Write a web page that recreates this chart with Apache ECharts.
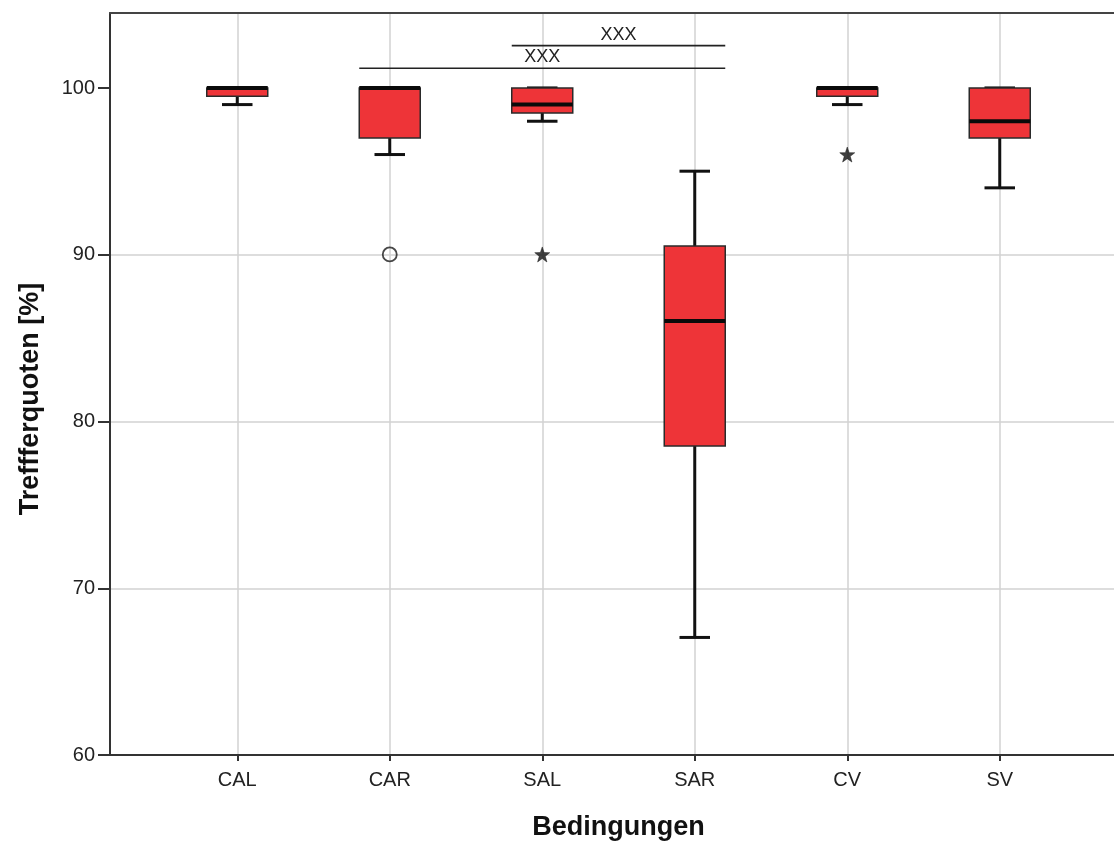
<!DOCTYPE html>
<html>
<head>
<meta charset="utf-8">
<title>Trefferquoten nach Bedingung</title>
<script src="https://cdn.jsdelivr.net/npm/echarts@6/dist/echarts.min.js"></script>
<style>
  html, body { margin: 0; padding: 0; background: #ffffff; }
  #chart { width: 1114px; height: 846px; }
</style>
</head>
<body>
<div id="chart"></div>
<script>
// Conditions and five-number summaries (hit rate in %)
const categories = ['CAL', 'CAR', 'SAL', 'SAR', 'CV', 'SV'];
const whiskerLow  = [99,   96,   98,   67,   99,   94];
const quartile1   = [99.5, 97,   98.5, 78.5, 99.5, 97];
const medians     = [100,  100,  99,   86,   100,  98];
const quartile3   = [100,  100,  100,  90.5, 100,  100];
const whiskerHigh = [100,  100,  100,  95,   100,  100];

// Outliers: circle = outlier, star = extreme value
const outlierCats   = ['CAR', 'SAL', 'CV'];
const outlierValues = [90, 90, 96];
const outlierKinds  = ['circle', 'star', 'star'];

// Significance brackets between conditions
const sigFrom   = ['CAR', 'SAL'];
const sigTo     = ['SAR', 'SAR'];
const sigLevels = [101.18, 102.54];
const sigLabels = ['XXX', 'XXX'];

// Y axis labels
const yTickValues = [60, 70, 80, 90, 100];

const FONT = "'Liberation Sans', Arial, sans-serif";
const STAR = 'path://M0,-10L2.35,-3.24L9.51,-3.09L3.8,1.24L5.88,8.09L0,4L-5.88,8.09L-3.8,1.24L-9.51,-3.09L-2.35,-3.24Z';

const boxRows = categories.map((c, i) => [i, whiskerLow[i], quartile1[i], medians[i], quartile3[i], whiskerHigh[i]]);
const outlierData = outlierCats.map((c, i) => ({
  value: [c, outlierValues[i]],
  symbol: outlierKinds[i] === 'circle' ? 'circle' : STAR,
  symbolSize: outlierKinds[i] === 'circle' ? 14 : 15,
  itemStyle: outlierKinds[i] === 'circle'
    ? { color: 'rgba(255,255,255,0)', borderColor: '#1a1a1a', borderWidth: 1.8 }
    : { color: '#111', borderColor: '#111', borderWidth: 0.6 }
}));
const sigData = sigFrom.map((f, i) => [categories.indexOf(f), categories.indexOf(sigTo[i]), sigLevels[i], i]);

function renderBox(params, api) {
  const x = api.value(0);
  const band = api.size([1, 0])[0];
  const half = band * 0.2;
  const capHalf = band * 0.1;
  const pMin = api.coord([x, api.value(1)]);
  const pQ1 = api.coord([x, api.value(2)]);
  const pMed = api.coord([x, api.value(3)]);
  const pQ3 = api.coord([x, api.value(4)]);
  const pMax = api.coord([x, api.value(5)]);
  const cx = pMed[0];
  const whisker = { stroke: '#111', lineWidth: 3 };
  return {
    type: 'group',
    children: [
      { type: 'line', shape: { x1: cx, y1: pMax[1], x2: cx, y2: pQ3[1] }, style: whisker },
      { type: 'line', shape: { x1: cx, y1: pQ1[1], x2: cx, y2: pMin[1] }, style: whisker },
      { type: 'line', shape: { x1: cx - capHalf, y1: pMax[1], x2: cx + capHalf, y2: pMax[1] }, style: whisker },
      { type: 'line', shape: { x1: cx - capHalf, y1: pMin[1], x2: cx + capHalf, y2: pMin[1] }, style: whisker },
      { type: 'rect', shape: { x: cx - half, y: pQ3[1], width: half * 2, height: pQ1[1] - pQ3[1] },
        style: { fill: '#ee3438', stroke: '#2a2a2a', lineWidth: 1.5 } },
      { type: 'line', shape: { x1: cx - half, y1: pMed[1], x2: cx + half, y2: pMed[1] },
        style: { stroke: '#0a0a0a', lineWidth: 4 } }
    ]
  };
}

function renderBracket(params, api) {
  const band = api.size([1, 0])[0];
  const half = band * 0.2;
  const a = api.coord([api.value(0), api.value(2)]);
  const b = api.coord([api.value(1), api.value(2)]);
  const x1 = a[0] - half, x2 = b[0] + half, y = a[1];
  return {
    type: 'group',
    children: [
      { type: 'line', shape: { x1: x1, y1: y, x2: x2, y2: y }, style: { stroke: '#222', lineWidth: 1.6 } },
      { type: 'text', x: (x1 + x2) / 2, y: y - 2,
        style: { text: sigLabels[api.value(3)], fill: '#222', font: '18px ' + FONT, align: 'center', verticalAlign: 'bottom' } }
    ]
  };
}

const chart = echarts.init(document.getElementById('chart'), null, { renderer: 'canvas' });
chart.setOption({
  backgroundColor: '#ffffff',
  animation: false,
  grid: [
    { left: 110, top: 13, right: 0, bottom: 91 },
    { left: 161, top: 13, right: 38, bottom: 91 }
  ],
  xAxis: [
    { gridIndex: 0, type: 'value', min: 0, max: 1, position: 'bottom',
      axisLine: { show: true, lineStyle: { color: '#333', width: 2 } },
      axisTick: { show: false }, axisLabel: { show: false }, splitLine: { show: false } },
    { gridIndex: 1, type: 'category', data: categories,
      axisLine: { show: false },
      axisTick: { show: true, alignWithLabel: true, length: 7, interval: 0, lineStyle: { color: '#333', width: 2 } },
      axisLabel: { interval: 0, color: '#222', fontSize: 20, fontFamily: FONT, margin: 16 },
      splitLine: { show: true, interval: 0, alignWithLabel: true, lineStyle: { color: '#d2d2d2', width: 1.5 } },
      name: 'Bedingungen', nameLocation: 'middle', nameGap: 60,
      nameTextStyle: { color: '#111', fontSize: 27, fontWeight: 'bold', fontFamily: FONT } },
    { gridIndex: 0, type: 'value', min: 0, max: 1, position: 'top',
      axisLine: { show: true, lineStyle: { color: '#444', width: 2 } },
      axisTick: { show: false }, axisLabel: { show: false }, splitLine: { show: false } }
  ],
  yAxis: [
    { gridIndex: 0, type: 'value', min: 60, max: 104.5, interval: 5,
      axisLine: { show: true, lineStyle: { color: '#333', width: 2 } },
      axisTick: { show: true, length: 12, customValues: yTickValues, lineStyle: { color: '#333', width: 2 } },
      axisLabel: { customValues: yTickValues, color: '#222', fontSize: 20, fontFamily: FONT, margin: 15 },
      splitLine: { show: true, showMaxLine: false, lineStyle: { color: '#d2d2d2', width: 1.5 } },
      name: 'Treffferquoten [%]', nameLocation: 'middle', nameGap: 66,
      nameTextStyle: { color: '#111', fontSize: 27, fontWeight: 'bold', fontFamily: FONT, padding: [0, 30, 0, 0] } },
    { gridIndex: 1, type: 'value', min: 60, max: 104.5, show: false }
  ],
  series: [
    { type: 'custom', name: 'boxes', xAxisIndex: 1, yAxisIndex: 1, z: 3,
      renderItem: renderBox, data: boxRows, encode: { x: 0, y: [1, 2, 3, 4, 5] } },
    { type: 'scatter', name: 'outliers', xAxisIndex: 1, yAxisIndex: 1, z: 4, data: outlierData },
    { type: 'custom', name: 'brackets', xAxisIndex: 1, yAxisIndex: 1, z: 4,
      renderItem: renderBracket, data: sigData, encode: { x: [0, 1], y: 2 } }
  ]
});
</script>
</body>
</html>
